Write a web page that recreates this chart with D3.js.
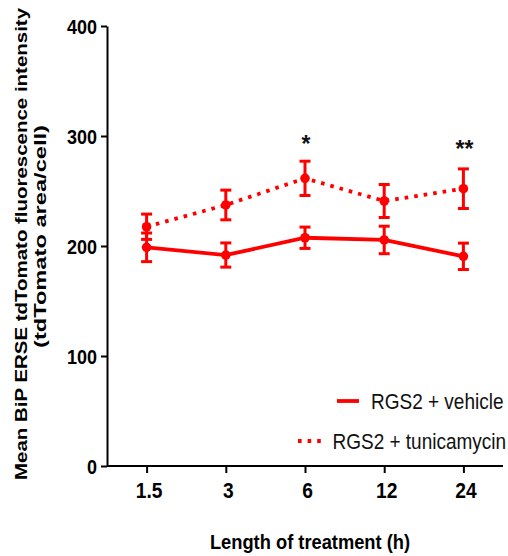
<!DOCTYPE html>
<html>
<head>
<meta charset="utf-8">
<script src="https://cdn.jsdelivr.net/npm/d3@7"></script>
<style>
  html, body { margin: 0; padding: 0; background: #fff; }
  svg { display: block; }
  text { font-family: "Liberation Sans", Arial, sans-serif; }
</style>
</head>
<body>
<svg id="chart" width="508" height="556"></svg>
<script>
// ---- data ----
const categories = ["1.5", "3", "6", "12", "24"];
const vehicleMean = [198.8, 191.8, 207.5, 205.5, 190.6];
const vehicleErr  = [13, 11, 9.7, 12.5, 12];
const tunicamycinMean = [217.5, 237.3, 261.5, 240.9, 252.1];
const tunicamycinErr  = [11.5, 13.5, 15.6, 15, 18];
const yTicks = [0, 100, 200, 300, 400];
const significance = [
  { category: "6", label: "*" },
  { category: "24", label: "**" }
];
const seriesNames = ["RGS2 + vehicle", "RGS2 + tunicamycin"];
const xTitle = "Length of treatment (h)";
const yTitle1 = "Mean BiP ERSE tdTomato fluorescence intensity";
const yTitle2 = "(tdTomato area/cell)";

// ---- layout ----
const RED = "#ff0000";
const SY = 1.14; // vertical glyph stretch
const svg = d3.select("#chart");

const x = d3.scalePoint().domain(categories).range([107, 503]).padding(0.5);
const y = d3.scaleLinear().domain([0, 400]).range([466, 26]);

// axes
const yAxis = d3.axisLeft(y).tickValues(yTicks).tickSize(6).tickSizeOuter(0).tickPadding(10);
const gy = svg.append("g").attr("transform", "translate(107,0)").call(yAxis);
gy.select(".domain").attr("stroke", "#000").attr("stroke-width", 2);
gy.selectAll(".tick line").attr("stroke", "#000").attr("stroke-width", 2);
gy.selectAll(".tick text")
  .attr("fill", "#000")
  .attr("font-size", 18)
  .attr("font-weight", "bold")
  .attr("font-family", "Liberation Sans, Arial, sans-serif")
  .attr("x", -10)
  .attr("dy", "0.358em")
  .attr("transform", `scale(1,${SY})`);

const xAxis = d3.axisBottom(x).tickSize(7).tickSizeOuter(0);
const gx = svg.append("g").attr("transform", "translate(0,466)").call(xAxis);
gx.select(".domain").attr("stroke", "#000").attr("stroke-width", 2)
  .attr("d", "M107,0H503");
gx.selectAll(".tick line").attr("stroke", "#000").attr("stroke-width", 2);
gx.selectAll(".tick text")
  .attr("fill", "#000")
  .attr("font-size", 19.2)
  .attr("font-weight", "bold")
  .attr("font-family", "Liberation Sans, Arial, sans-serif")
  .attr("x", 2)
  .attr("y", 32 / SY)
  .attr("dy", 0)
  .attr("transform", `scale(1,${SY})`);

// series
function drawSeries(means, errs, dash) {
  const pts = categories.map((c, i) => ({ c, m: means[i], e: errs[i] }));
  const line = d3.line().x(d => x(d.c)).y(d => y(d.m));
  const path = svg.append("path").datum(pts)
    .attr("d", line)
    .attr("fill", "none")
    .attr("stroke", RED)
    .attr("stroke-width", 3.8);
  if (dash) path.attr("stroke-dasharray", dash);
  const g = svg.append("g");
  pts.forEach(d => {
    const cx = x(d.c);
    g.append("line").attr("x1", cx).attr("x2", cx)
      .attr("y1", y(d.m + d.e)).attr("y2", y(d.m - d.e))
      .attr("stroke", RED).attr("stroke-width", 3);
    [d.m + d.e, d.m - d.e].forEach(v => {
      g.append("line").attr("x1", cx - 5.5).attr("x2", cx + 5.5)
        .attr("y1", y(v)).attr("y2", y(v))
        .attr("stroke", RED).attr("stroke-width", 3);
    });
    g.append("circle").attr("cx", cx).attr("cy", y(d.m)).attr("r", 4.8).attr("fill", RED);
  });
}
drawSeries(vehicleMean, vehicleErr, null);
drawSeries(tunicamycinMean, tunicamycinErr, "3.6,6");

// significance markers
const sigBase = { "*": 152, "**": 157 };
significance.forEach(s => {
  svg.append("text")
    .attr("x", x(s.category) + 1)
    .attr("y", sigBase[s.label])
    .attr("text-anchor", "middle")
    .attr("font-size", 23)
    .attr("font-weight", "bold")
    .attr("fill", "#111")
    .text(s.label);
});

// legend
const legend = [
  { name: seriesNames[0], dash: null, lx1: 337, lx2: 359, ly: 401, tx: 371, ty: 409.3 },
  { name: seriesNames[1], dash: "3.6,6", lx1: 298, lx2: 321, ly: 441, tx: 332.5, ty: 449.3 }
];
legend.forEach(l => {
  const ln = svg.append("line").attr("x1", l.lx1).attr("x2", l.lx2)
    .attr("y1", l.ly).attr("y2", l.ly)
    .attr("stroke", RED).attr("stroke-width", 3.8);
  if (l.dash) ln.attr("stroke-dasharray", l.dash);
  svg.append("text")
    .attr("transform", `translate(${l.tx},${l.ty}) scale(1,${SY})`)
    .attr("font-size", 19)
    .attr("fill", "#111")
    .text(l.name);
});

// axis titles
svg.append("text")
  .attr("transform", `translate(310,549) scale(1,${SY})`)
  .attr("text-anchor", "middle")
  .attr("font-size", 18.3)
  .attr("font-weight", "bold")
  .attr("fill", "#000")
  .text(xTitle);

svg.append("text")
  .attr("transform", "translate(27,244) rotate(-90)")
  .attr("text-anchor", "middle")
  .attr("font-size", 17)
  .attr("font-weight", "bold")
  .attr("fill", "#000")
  .attr("textLength", 472)
  .attr("lengthAdjust", "spacingAndGlyphs")
  .text(yTitle1);

svg.append("text")
  .attr("transform", "translate(46,236.5) rotate(-90)")
  .attr("text-anchor", "middle")
  .attr("font-size", 17)
  .attr("font-weight", "bold")
  .attr("fill", "#000")
  .attr("textLength", 223)
  .attr("lengthAdjust", "spacingAndGlyphs")
  .text(yTitle2);
</script>
</body>
</html>
